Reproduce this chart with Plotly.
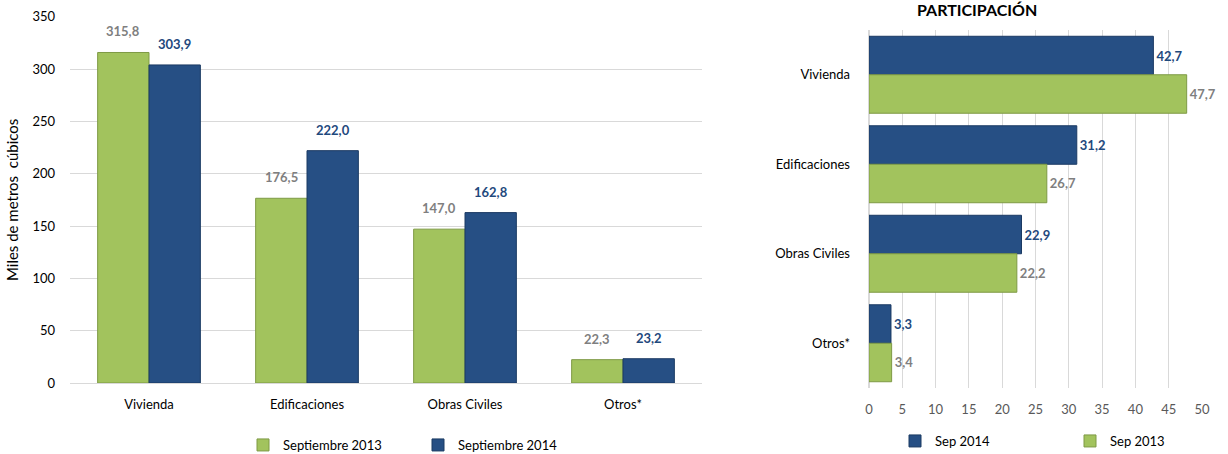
import plotly.graph_objects as go

categories = ["Vivienda", "Edificaciones", "Obras Civiles", "Otros*"]
vol_2013 = [315.8, 176.5, 147.0, 22.3]
vol_2014 = [303.9, 222.0, 162.8, 23.2]
part_2014 = [42.7, 31.2, 22.9, 3.3]
part_2013 = [47.7, 26.7, 22.2, 3.4]
left_ticks = [0, 50, 100, 150, 200, 250, 300, 350]
right_ticks = [0, 5, 10, 15, 20, 25, 30, 35, 40, 45, 50]

GREEN = "#A2C35D"
BLUE = "#264F84"
GREEN_EDGE = "#7E9A45"
BLUE_EDGE = "#1B3A63"
GRAY_TXT = "#7F7F7F"
BLUE_TXT = "#1F497D"
FONT = "Lato"


def fmt(v):
    return f"{v:.1f}".replace(".", ",")


fig = go.Figure()

fig.add_trace(go.Bar(
    x=categories, y=vol_2013, name="Septiembre 2013",
    marker=dict(color=GREEN, line=dict(color=GREEN_EDGE, width=1)),
    xaxis="x", yaxis="y", legend="legend",
))
fig.add_trace(go.Bar(
    x=categories, y=vol_2014, name="Septiembre 2014",
    marker=dict(color=BLUE, line=dict(color=BLUE_EDGE, width=1)),
    xaxis="x", yaxis="y", legend="legend",
))

fig.add_trace(go.Bar(
    y=categories, x=part_2014, name="Sep 2014", orientation="h",
    width=0.43, offset=-0.43,
    marker=dict(color=BLUE, line=dict(color=BLUE_EDGE, width=1)),
    text=[fmt(v) for v in part_2014], textposition="outside",
    textfont=dict(color=BLUE_TXT, size=13, family=FONT, weight="bold"),
    cliponaxis=False, xaxis="x2", yaxis="y2", legend="legend2",
))
fig.add_trace(go.Bar(
    y=categories, x=part_2013, name="Sep 2013", orientation="h",
    width=0.43, offset=0.0,
    marker=dict(color=GREEN, line=dict(color=GREEN_EDGE, width=1)),
    text=[fmt(v) for v in part_2013], textposition="outside",
    textfont=dict(color=GRAY_TXT, size=13, family=FONT, weight="bold"),
    cliponaxis=False, xaxis="x2", yaxis="y2", legend="legend2",
))

# value labels above the left (vertical) bars
annotations = []
for cat, v in zip(categories, vol_2013):
    annotations.append(dict(x=cat, y=v, xref="x", yref="y", text=f"<b>{fmt(v)}</b>",
                            showarrow=False, xshift=-25.8, yshift=11, yanchor="bottom",
                            font=dict(color=GRAY_TXT, size=13, family=FONT)))
for cat, v in zip(categories, vol_2014):
    annotations.append(dict(x=cat, y=v, xref="x", yref="y", text=f"<b>{fmt(v)}</b>",
                            showarrow=False, xshift=25.8, yshift=11, yanchor="bottom",
                            font=dict(color=BLUE_TXT, size=13, family=FONT)))
annotations.append(dict(text="<b>PARTICIPACIÓN</b>", x=977 / 1228, y=(454 - 9) / 454,
                        xref="paper", yref="paper", showarrow=False,
                        font=dict(size=16, family=FONT), xanchor="center", yanchor="middle"))

fig.update_layout(
    width=1228, height=454,
    margin=dict(l=0, r=0, t=0, b=0, autoexpand=False),
    paper_bgcolor="white", plot_bgcolor="white",
    font=dict(family=FONT, size=13, color="#000000"),
    barmode="group",
    bargap=0.35, bargroupgap=0.0,
    xaxis=dict(domain=[70 / 1228, 702 / 1228], showgrid=False, showline=False,
               ticks="", ticklabelstandoff=12, tickfont=dict(size=13), automargin=False),
    yaxis=dict(domain=[(454 - 383) / 454, (454 - 16.7) / 454], range=[0, 350],
               tickvals=left_ticks, showgrid=True, gridcolor="#D9D9D9", gridwidth=1,
               zeroline=True, zerolinecolor="#D9D9D9", zerolinewidth=1,
               showline=False, ticks="", ticklabelstandoff=14, automargin=False,
               title=dict(text="Miles de metros  cúbicos", font=dict(size=15), standoff=10)),
    xaxis2=dict(domain=[869 / 1228, 1202 / 1228], range=[0, 50], tickvals=right_ticks,
                anchor="y2", showgrid=True, gridcolor="#D9D9D9", gridwidth=1,
                zeroline=True, zerolinecolor="#D9D9D9", showline=False, ticks="",
                ticklabelstandoff=12, tickfont=dict(color="#595959", size=13), automargin=False),
    yaxis2=dict(domain=[(454 - 388) / 454, (454 - 30) / 454], anchor="x2",
                autorange="reversed", showgrid=False, showline=False, ticks="",
                ticklabelstandoff=18, tickfont=dict(size=13), automargin=False),
    legend=dict(orientation="h", x=243 / 1228, y=(454 - 445) / 454, xanchor="left",
                yanchor="middle", entrywidth=130, entrywidthmode="pixels",
                font=dict(size=13), itemwidth=30, bgcolor="rgba(0,0,0,0)"),
    legend2=dict(orientation="h", x=895 / 1228, y=(454 - 441) / 454, xanchor="left",
                 yanchor="middle", entrywidth=130, entrywidthmode="pixels",
                 font=dict(size=13), itemwidth=30, bgcolor="rgba(0,0,0,0)"),
    annotations=annotations,
)

fig.write_html("out.html", config={"displayModeBar": False},
               post_script="document.body.style.margin='0';document.body.style.padding='0';")
